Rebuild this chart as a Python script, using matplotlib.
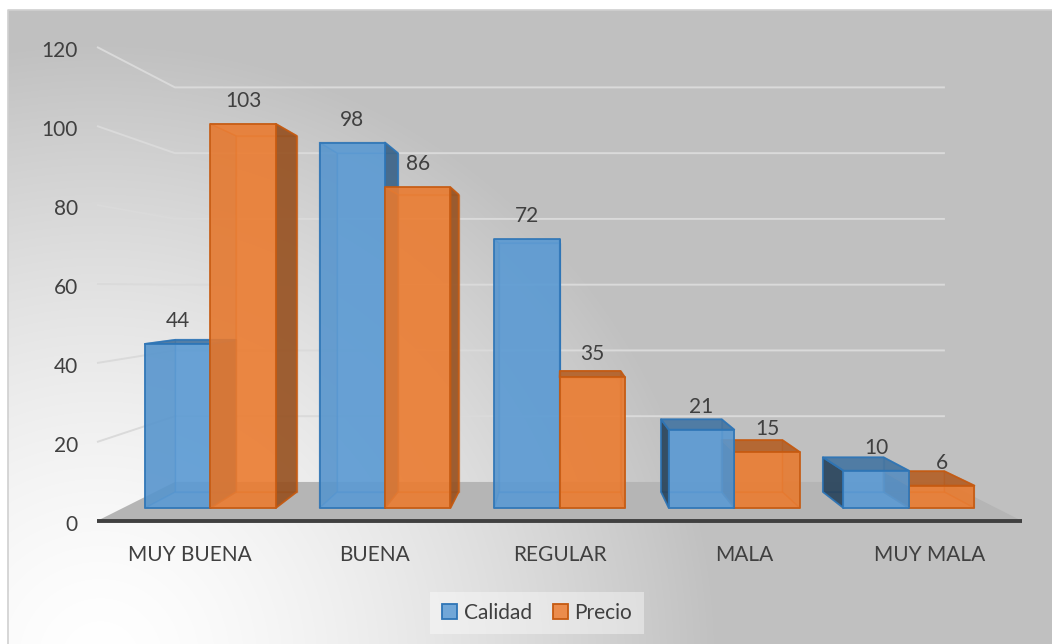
import numpy as np
import matplotlib
matplotlib.use("Agg")
import matplotlib.pyplot as plt
from matplotlib.patches import Polygon, Patch
from matplotlib.colors import to_rgb

plt.rcParams['font.family'] = ['Lato', 'DejaVu Sans']

# Data
categorias = ['MUY BUENA', 'BUENA', 'REGULAR', 'MALA', 'MUY MALA']
calidad = [44, 98, 72, 21, 10]
precio = [103, 86, 35, 15, 6]
series_names = ['Calidad', 'Precio']
y_ticks = [0, 20, 40, 60, 80, 100, 120]

# Colours
fill_colors = ['#5b9bd5', '#ed7d31']
edge_colors = ['#2e75b6', '#c55a11']
text_color = '#404040'

# Perspective layout (pixels): vanishing point, front plane scales
W, H = 1052, 644
VX, VY = 562, 288
X0, CAT_W = 97, 185          # front edge of floor, width per category
Y0, PX_PER_UNIT = 521, 3.95  # front baseline, pixels per value unit
K_BACK = 0.8324              # scale of back wall
S_FRONT, S_BACK = 0.944, 0.875  # depth range of the bars
BAR_FRAC = 0.375


def proj(u, v, s):
    xf = u
    yf = Y0 - v * PX_PER_UNIT
    return (VX + (xf - VX) * s, VY + (yf - VY) * s)


def shade(color, f, alpha):
    r, g, b = to_rgb(color)
    return (r * f, g * f, b * f, alpha)


fig = plt.figure(figsize=(W / 100, H / 100), dpi=100)
ax = fig.add_axes([0, 0, 1, 1])
ax.set_xlim(0, W)
ax.set_ylim(H, 0)
ax.axis('off')

# background: radial gradient from lower left
yy, xx = np.mgrid[0:H, 0:W]
d = np.sqrt((xx - 100) ** 2 + (yy - 660) ** 2)
t = np.clip(d / 620, 0, 1) ** 1.5
gray = 1.0 - (1.0 - 0.753) * t
bg = np.dstack([gray, gray, gray])
ax.imshow(bg[10:, 8:], extent=[8, W, H, 10], zorder=0, aspect='auto')
ax.plot([8, 8, W], [H, 10, 10], color='#d0d0d0', lw=1.2, zorder=1)

x_end = X0 + CAT_W * len(categorias)

# floor
floor = [proj(X0, 0, 1), proj(x_end, 0, 1), proj(x_end, 0, K_BACK), proj(X0, 0, K_BACK)]
ax.add_patch(Polygon(floor, closed=True, facecolor='#b5b5b5', edgecolor='none', zorder=2))

# gridlines: side wall segment + back wall
for v in y_ticks[1:]:
    p1 = proj(X0, v, 1)
    p2 = proj(X0, v, K_BACK)
    p3 = proj(x_end, v, K_BACK)
    ax.plot([p1[0], p2[0], p3[0]], [p1[1], p2[1], p3[1]], color='#dadada',
            lw=1.4, zorder=3, solid_capstyle='butt')

# y tick labels
for v in y_ticks:
    x, y = proj(X0, v, 1)
    ax.text(x - 19, y + 4, str(v), ha='right', va='center', fontsize=15, color=text_color)

# front axis line
ax.plot([X0, x_end], [Y0, Y0], color='#404040', lw=2.8, zorder=4, solid_capstyle='butt')

# category labels
for i, cat in enumerate(categorias):
    ax.text(X0 + CAT_W * (i + 0.5), 555, cat, ha='center', va='center',
            fontsize=15, color=text_color)

# bars
bars = []
for i in range(len(categorias)):
    c = X0 + CAT_W * (i + 0.5)
    w = CAT_W * BAR_FRAC
    for k, vals in enumerate([calidad, precio]):
        xl = c - w + k * w
        bars.append((xl, xl + w, vals[i], k))

# paint bars farthest from the vanishing point first
bars.sort(key=lambda b: -abs((b[0] + b[1]) / 2 - VX))

z = 5
for xl, xr, val, k in bars:
    base = fill_colors[k]
    ec = edge_colors[k]
    faces = {
        'back': [(xl, 0, S_BACK), (xr, 0, S_BACK), (xr, val, S_BACK), (xl, val, S_BACK)],
        'bottom': [(xl, 0, S_FRONT), (xr, 0, S_FRONT), (xr, 0, S_BACK), (xl, 0, S_BACK)],
        'left': [(xl, 0, S_FRONT), (xl, 0, S_BACK), (xl, val, S_BACK), (xl, val, S_FRONT)],
        'right': [(xr, 0, S_FRONT), (xr, 0, S_BACK), (xr, val, S_BACK), (xr, val, S_FRONT)],
        'top': [(xl, val, S_FRONT), (xr, val, S_FRONT), (xr, val, S_BACK), (xl, val, S_BACK)],
        'front': [(xl, 0, S_FRONT), (xr, 0, S_FRONT), (xr, val, S_FRONT), (xl, val, S_FRONT)],
    }
    factor = {'back': 0.85, 'bottom': 0.85, 'left': 0.4, 'right': 0.62, 'top': 0.75, 'front': 1.0}
    visible = {
        'back': False,
        'bottom': False,
        'left': xl > VX,
        'right': xr < VX,
        'top': (Y0 - val * PX_PER_UNIT) > VY,
        'front': True,
    }
    order = [f for f in ['back', 'bottom', 'left', 'right', 'top'] if not visible[f]]
    order += [f for f in ['left', 'right', 'top'] if visible[f]] + ['front']
    for f in order:
        pts = [proj(*p) for p in faces[f]]
        if visible[f]:
            fc = shade(base, factor[f], 0.85)
            edge = to_rgb(ec) + (0.9,)
            lw = 1.3
        else:
            fc = shade(base, factor[f], 0.35)
            edge = to_rgb(ec) + (0.45,)
            lw = 1.0
        ax.add_patch(Polygon(pts, closed=True, facecolor=fc, edgecolor=edge, lw=lw,
                             joinstyle='round', zorder=z))
        z += 0.01
    # value label above the front top edge
    lx, ly = proj((xl + xr) / 2, val, S_FRONT)
    ax.text(lx, ly - 23, str(val), ha='center', va='center', fontsize=15,
            color=text_color, zorder=20)

# legend
handles = [Patch(facecolor=shade(fill_colors[k], 1.0, 0.85), edgecolor=edge_colors[k],
                 lw=1.3, label=series_names[k]) for k in range(2)]
leg = ax.legend(handles=handles, loc='center', bbox_to_anchor=(537 / W, 1 - 613 / H),
                ncol=2, frameon=True, fontsize=15, handlelength=0.75, handleheight=0.75,
                handletextpad=0.3, columnspacing=1.0, borderpad=0.55, fancybox=False)
leg.get_frame().set_facecolor('#ffffff')
leg.get_frame().set_alpha(0.4)
leg.get_frame().set_edgecolor('none')
for txt in leg.get_texts():
    txt.set_color(text_color)

fig.savefig('out.png', dpi=100)
